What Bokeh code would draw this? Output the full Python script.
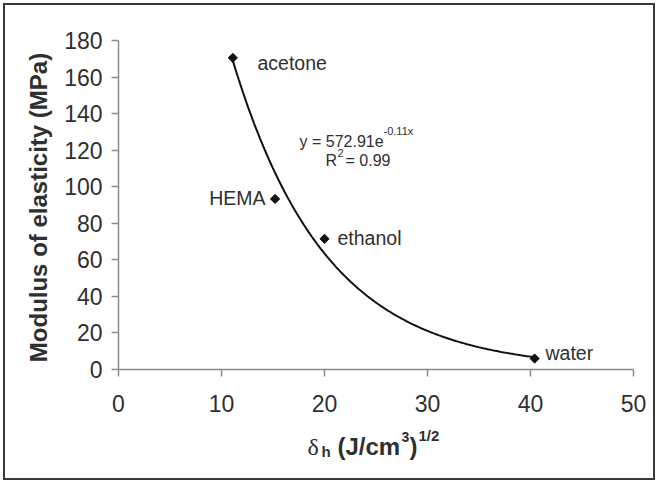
import numpy as np
from bokeh.plotting import figure
from bokeh.models import Label, FixedTicker, Range1d
from bokeh.embed import file_html
from bokeh.resources import INLINE

# Data
solvents = ["acetone", "HEMA", "ethanol", "water"]
delta_h = [11.1, 15.2, 20.0, 40.4]
modulus = [170.5, 93.3, 71.5, 6.0]
fit_a = 572.91
fit_b = -0.11
x_ticks = [0, 10, 20, 30, 40, 50]
y_ticks = [0, 20, 40, 60, 80, 100, 120, 140, 160, 180]

FONT = "Liberation Sans"
TXT = "#2f2f2f"

# pixel <-> data mapping of the reference layout (page coords)
X0_PX, PX_PER_X = 118, 10.3
Y0_PX, PX_PER_Y = 369, 329 / 180

def dx(px):
    return (px - X0_PX) / PX_PER_X

def dy(py):
    return (Y0_PX - py) / PX_PER_Y

p = figure(width=652, height=477, output_backend="svg", toolbar_location=None,
           x_range=Range1d(dx(5), dx(657)), y_range=Range1d(dy(482), dy(5)),
           min_border=0)
p.background_fill_color = "white"
p.border_fill_color = "white"
p.outline_line_color = None
p.grid.grid_line_color = None
p.styles = {"border": "2px solid #3a3a3a", "margin": "3px"}

p.xaxis.fixed_location = 0
p.yaxis.fixed_location = 0
p.xaxis.bounds = (x_ticks[0], x_ticks[-1])
p.yaxis.bounds = (y_ticks[0], y_ticks[-1])

for ax in (p.xaxis, p.yaxis):
    ax.axis_line_color = "#8c8c8c"
    ax.axis_line_width = 1.5
    ax.major_tick_line_color = "#8c8c8c"
    ax.major_tick_line_width = 1.5
    ax.major_tick_out = 7
    ax.major_tick_in = 0
    ax.minor_tick_line_color = None
    ax.major_label_text_font = FONT
    ax.major_label_text_font_size = "23px"
    ax.major_label_text_color = TXT

p.xaxis.ticker = FixedTicker(ticks=x_ticks)
p.yaxis.ticker = FixedTicker(ticks=y_ticks)
p.xaxis.major_label_standoff = 18
p.yaxis.major_label_standoff = 9

# trendline from fitted equation
xf = np.linspace(min(delta_h), max(delta_h), 200)
yf = fit_a * np.exp(fit_b * xf)
p.line(xf, yf, line_color="#111111", line_width=2)

p.scatter(delta_h, modulus, marker="square", angle=np.pi / 4, size=6.5,
          fill_color="#111111", line_color="#111111")

def lab(text, px, py, size, style="normal", font=FONT, align="left", baseline="alphabetic", angle=0):
    p.add_layout(Label(x=dx(px), y=dy(py), text=text, text_font=font, text_font_size=size,
                       text_font_style=style, text_color=TXT, text_align=align,
                       text_baseline=baseline, angle=angle))

# point labels
lab(solvents[0], 257, 62, "19.5px", baseline="middle")
lab(solvents[1], 265, 197, "19.5px", align="right", baseline="middle")
lab(solvents[2], 337, 237, "19.5px", baseline="middle")
lab(solvents[3], 545, 352, "19.5px", baseline="middle")

# equation
lab("y = 572.91e", 299, 141, "16px")
lab("-0.11x", 383, 130, "11px")
lab("R", 325, 160, "16px")
lab("2", 337, 152, "11px")
lab("= 0.99", 345, 160, "16px")

# y-axis label
lab("Modulus of elasticity (MPa)", 38, 207, "24px", style="bold", align="center",
    baseline="middle", angle=np.pi / 2)

# x-axis label
lab("\u03b4", 307, 446, "24px", font="Liberation Serif")
lab("h", 321, 451, "15px", style="bold")
lab("(J/cm", 337, 446, "24px", style="bold")
lab("3", 401, 436, "14px", style="bold")
lab(")", 409, 446, "24px", style="bold")
lab("1/2", 418, 435, "15px", style="bold")

open("out.html", "w").write(file_html(p, INLINE))
